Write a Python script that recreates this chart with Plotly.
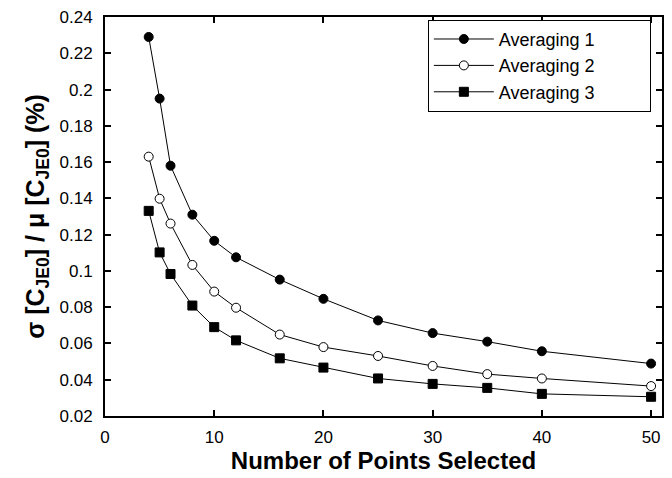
import plotly.graph_objects as go

x_points = [4, 5, 6, 8, 10, 12, 16, 20, 25, 30, 35, 40, 50]
averaging_1 = [0.229, 0.195, 0.158, 0.131, 0.1166, 0.1075, 0.0952, 0.0846, 0.0727, 0.0657, 0.061, 0.0557, 0.0489]
averaging_2 = [0.163, 0.1398, 0.1261, 0.1033, 0.0886, 0.0797, 0.0649, 0.058, 0.0531, 0.0476, 0.0431, 0.0407, 0.0365]
averaging_3 = [0.1331, 0.1102, 0.0983, 0.0809, 0.069, 0.0617, 0.0518, 0.0467, 0.0407, 0.0377, 0.0355, 0.0322, 0.0306]
series_names = ["Averaging 1", "Averaging 2", "Averaging 3"]
x_ticks = [0, 10, 20, 30, 40, 50]
y_ticks = [0.02, 0.04, 0.06, 0.08, 0.1, 0.12, 0.14, 0.16, 0.18, 0.2, 0.22, 0.24]
y_tick_labels = ["0.02", "0.04", "0.06", "0.08", "0.1", "0.12", "0.14", "0.16", "0.18", "0.2", "0.22", "0.24"]

FONT = "Liberation Sans, Arial, sans-serif"
PAD = "\u00a0" * 10  # right padding inside the legend box

styles = [
    dict(symbol="circle", color="black", line=dict(color="black", width=1)),
    dict(symbol="circle", color="white", line=dict(color="black", width=1)),
    dict(symbol="square", color="black", line=dict(color="black", width=1)),
]

fig = go.Figure()
for name, ys, st in zip(series_names, [averaging_1, averaging_2, averaging_3], styles):
    fig.add_trace(go.Scatter(
        x=x_points, y=ys, name=name + PAD, mode="lines+markers",
        line=dict(color="black", width=1),
        marker=dict(size=9, **st),
    ))

axis_common = dict(
    showline=True, linecolor="black", linewidth=2, mirror="ticks",
    ticks="inside", ticklen=6, tickwidth=1.5, tickcolor="black",
    showgrid=False, zeroline=False,
    tickfont=dict(family=FONT, size=17, color="black"),
)

fig.update_xaxes(
    range=[0, 51], tickvals=x_ticks,
    title=dict(text="<b>Number of Points Selected</b>", font=dict(family=FONT, size=24, color="black"), standoff=6),
    ticklabelstandoff=5,
    **axis_common,
)
fig.update_yaxes(
    range=[0.02, 0.24], tickvals=y_ticks, ticktext=y_tick_labels,
    title=dict(text="<b>σ [C<sub>JE0</sub>] / μ [C<sub>JE0</sub>] (%)</b>", font=dict(family=FONT, size=25, color="black"), standoff=8),
    ticklabelstandoff=7,
    **axis_common,
)

fig.update_layout(
    width=672, height=478,
    margin=dict(l=105, r=8, t=15, b=62),
    paper_bgcolor="white", plot_bgcolor="white",
    font=dict(family=FONT, color="black"),
    showlegend=True,
    legend=dict(
        x=0.98, y=0.993, xanchor="right", yanchor="top",
        bgcolor="white", bordercolor="black", borderwidth=1,
        font=dict(family=FONT, size=18, color="black"),
        tracegroupgap=0, itemwidth=60,
    ),
)

fig.write_html("out.html")
